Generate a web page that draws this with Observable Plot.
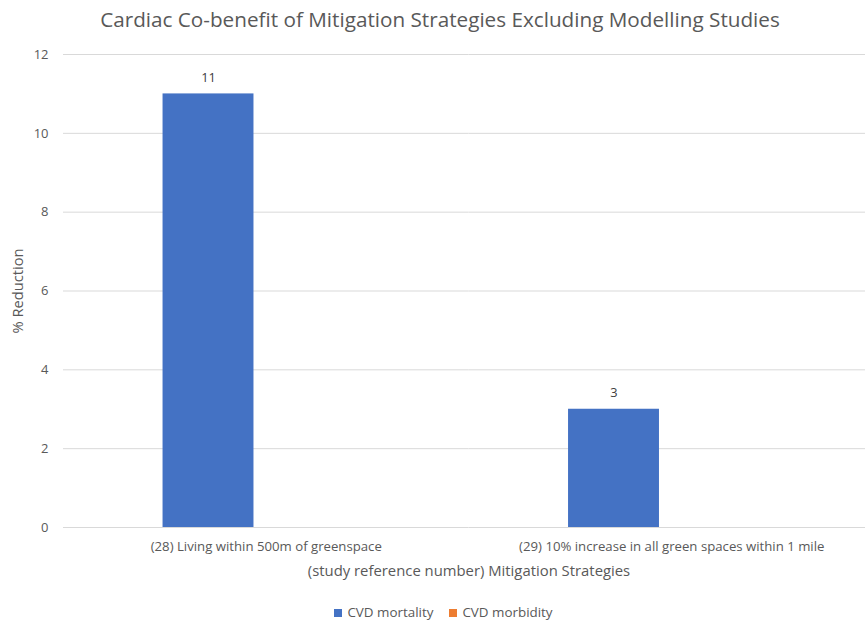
<!DOCTYPE html>
<html>
<head>
<meta charset="utf-8">
<script src="https://cdn.jsdelivr.net/npm/d3@7"></script>
<script src="https://cdn.jsdelivr.net/npm/@observablehq/plot@0.6"></script>
<style>
  html, body { margin: 0; padding: 0; background: #fff; overflow: hidden; width: 865px; height: 623px; position: relative; }
  body { font-family: "Open Sans", sans-serif; color: #595959; }
  #title { position: absolute; left: 0; top: 0; width: 865px; height: 38px; line-height: 38px; text-align: center; font-size: 20.7px; color: #595959; white-space: nowrap; padding-left: 15px; box-sizing: border-box; }
  #chart { position: absolute; left: 0; top: 40px; width: 874px; }
  #chart svg { display: block; overflow: visible; max-width: none !important; width: 874px !important; height: 550px !important; }
  #legend { position: absolute; left: 0; top: 603px; width: 865px; height: 19px; display: flex; justify-content: center; align-items: center; padding-left: 22px; box-sizing: border-box; font-size: 13.4px; line-height: 17px; color: #595959; }
  .item { display: flex; align-items: center; margin: 0 8px; }
  .sw { width: 8px; height: 8px; margin-right: 5px; }
</style>
</head>
<body>
<div id="title">Cardiac Co-benefit of Mitigation Strategies Excluding Modelling Studies</div>
<div id="chart"></div>
<div id="legend"></div>
<script>
const categories = [
  "(28) Living within 500m of greenspace",
  "(29) 10% increase in all green spaces within 1 mile"
];
const seriesNames = ["CVD mortality", "CVD morbidity"];
const mortality = [11, 3];
const morbidity = [null, null];
const yTicks = [0, 2, 4, 6, 8, 10, 12];
const colors = ["#4472C4", "#ED7D31"];

const rows = [];
categories.forEach((c, i) => {
  rows.push({strategy: c, series: seriesNames[0], value: mortality[i]});
  rows.push({strategy: c, series: seriesNames[1], value: morbidity[i]});
});
const drawn = rows.filter(d => d.value != null);

const chart = Plot.plot({
  width: 874,
  height: 550,
  marginLeft: 63,
  marginRight: 0,
  marginTop: 14,
  marginBottom: 63,
  style: {fontFamily: "'Open Sans', sans-serif", fontSize: "13px", color: "#595959", background: "transparent", overflow: "visible"},
  fx: {domain: categories, padding: 0, label: null, round: false},
  x: {domain: seriesNames, paddingInner: 0.2126, paddingOuter: 0.862, axis: null, round: false},
  y: {domain: [0, 12], ticks: yTicks, label: null},
  color: {domain: seriesNames, range: colors},
  marks: [
    Plot.gridY(yTicks, {stroke: "#d9d9d9", strokeOpacity: 1}),
    Plot.barY(drawn, {fx: "strategy", x: "series", y: "value", fill: "series"}),
    Plot.text(drawn, {fx: "strategy", x: "series", y: "value", text: d => String(d.value), dy: -16.5, fill: "#404040", fontSize: 12.8}),
    Plot.axisY({ticks: yTicks, tickSize: 0, tickPadding: 15, label: null, fontSize: 13}),
    Plot.axisY({ticks: [], tickSize: 0, label: "% Reduction", labelAnchor: "center", labelArrow: "none", labelOffset: 51, fontSize: 14.7}),
    Plot.axisFx({anchor: "bottom", tickSize: 0, tickPadding: 14, label: null, fontSize: 13.2}),
    Plot.axisFx({anchor: "bottom", ticks: [], tickSize: 0, label: "(study reference number) Mitigation Strategies", labelAnchor: "center", labelArrow: "none", labelOffset: 48, fontSize: 14.85})
  ]
});
document.getElementById("chart").appendChild(chart);

const legend = document.getElementById("legend");
seriesNames.forEach((s, i) => {
  const it = document.createElement("div");
  it.className = "item";
  const sw = document.createElement("div");
  sw.className = "sw";
  sw.style.background = colors[i];
  const t = document.createElement("span");
  t.textContent = s;
  it.appendChild(sw);
  it.appendChild(t);
  legend.appendChild(it);
});
</script>
</body>
</html>
